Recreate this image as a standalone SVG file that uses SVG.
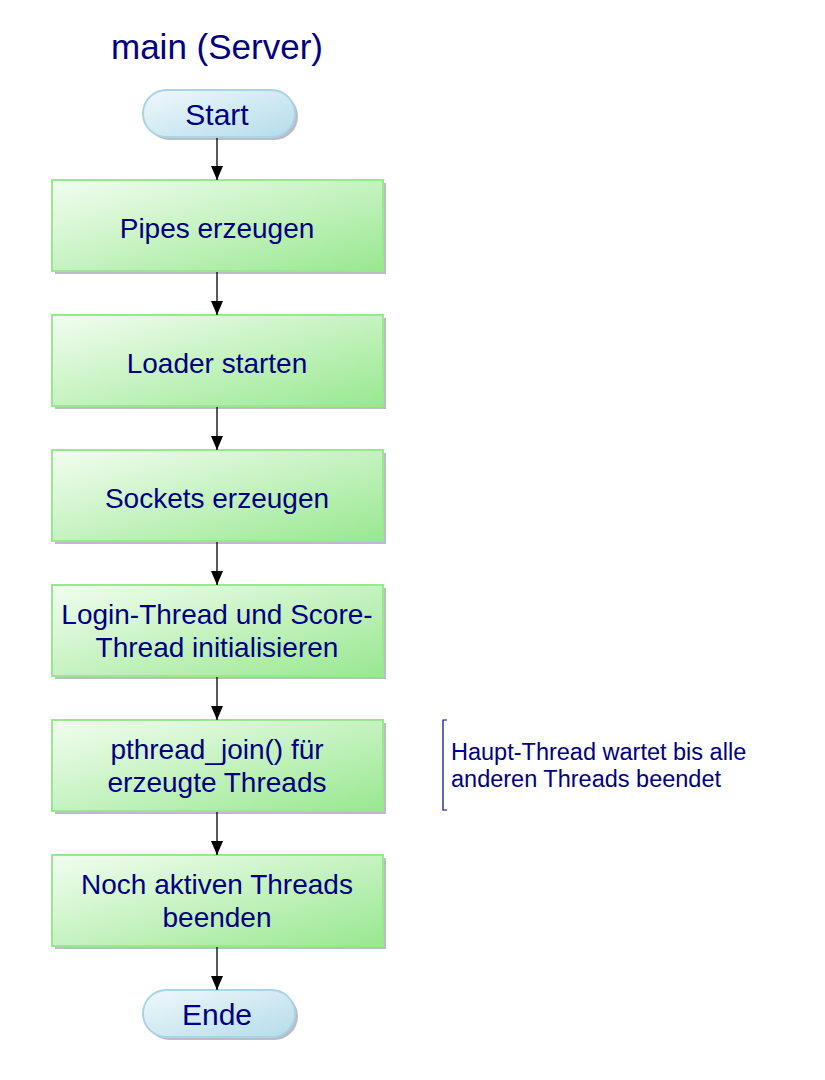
<svg xmlns="http://www.w3.org/2000/svg" width="825" height="1080" viewBox="0 0 825 1080">
<defs>
<linearGradient id="gBox" x1="0" y1="0" x2="1" y2="1">
<stop offset="0" stop-color="#f2fdf0"/>
<stop offset="1" stop-color="#98e890"/>
</linearGradient>
<linearGradient id="gTerm" x1="0" y1="0" x2="1" y2="1">
<stop offset="0" stop-color="#f0f8fc"/>
<stop offset="1" stop-color="#b4dcea"/>
</linearGradient>
<marker id="arr" markerWidth="14" markerHeight="12" refX="14" refY="6" orient="auto" markerUnits="userSpaceOnUse" viewBox="0 0 14 12">
<path d="M0,0 L14,6 L0,12 Z" fill="#000"/>
</marker>
<style>
.box{fill:url(#gBox);stroke:#98e890;stroke-width:2}
.term{fill:url(#gTerm);stroke:#a8d4e4;stroke-width:2}
.sh{fill:#a0a0b0;opacity:0.7}
.t{font-family:"Liberation Sans",Arial,sans-serif;font-size:28px;fill:#000080;text-anchor:middle}
.tt{font-family:"Liberation Sans",Arial,sans-serif;font-size:30px;fill:#000080;text-anchor:middle}
.n{font-family:"Liberation Sans",Arial,sans-serif;font-size:23.5px;fill:#000080}
.c{stroke:#000;stroke-width:1.3;fill:none;marker-end:url(#arr)}
</style>
</defs>
<rect width="825" height="1080" fill="#fff"/>
<text class="tt" x="217" y="59" style="font-size:35px">main (Server)</text>

<g id="start">
<rect class="sh" x="146" y="93" width="152" height="47" rx="23.5"/>
<rect class="term" x="143" y="90" width="152" height="47" rx="23.5"/>
<text class="tt" x="217" y="125">Start</text>
</g>
<g id="n1">
<rect class="sh" x="55" y="183" width="331" height="91"/>
<rect class="box" x="52" y="180" width="331" height="91"/>
<text class="t" x="217" y="238">Pipes erzeugen</text>
</g>
<g id="n2">
<rect class="sh" x="55" y="318" width="331" height="91"/>
<rect class="box" x="52" y="315" width="331" height="91"/>
<text class="t" x="217" y="373">Loader starten</text>
</g>
<g id="n3">
<rect class="sh" x="55" y="453" width="331" height="91"/>
<rect class="box" x="52" y="450" width="331" height="91"/>
<text class="t" x="217" y="508">Sockets erzeugen</text>
</g>
<g id="n4">
<rect class="sh" x="55" y="588" width="331" height="91"/>
<rect class="box" x="52" y="585" width="331" height="91"/>
<text class="t" x="217" y="624">Login-Thread und Score-</text>
<text class="t" x="217" y="657">Thread initialisieren</text>
</g>
<g id="n5">
<rect class="sh" x="55" y="723" width="331" height="91"/>
<rect class="box" x="52" y="720" width="331" height="91"/>
<text class="t" x="217" y="759">pthread_join() für</text>
<text class="t" x="217" y="792">erzeugte Threads</text>
</g>
<g id="n6">
<rect class="sh" x="55" y="858" width="331" height="91"/>
<rect class="box" x="52" y="855" width="331" height="91"/>
<text class="t" x="217" y="894">Noch aktiven Threads</text>
<text class="t" x="217" y="927">beenden</text>
</g>
<g id="end">
<rect class="sh" x="146" y="993" width="152" height="47" rx="23.5"/>
<rect class="term" x="143" y="990" width="152" height="47" rx="23.5"/>
<text class="tt" x="217" y="1025">Ende</text>
</g>
<g id="note">
<path d="M447,720 L443,720 L443,810 L447,810" fill="none" stroke="#000080" stroke-width="1.2"/>
<text class="n" x="451" y="760">Haupt-Thread wartet bis alle</text>
<text class="n" x="451" y="787">anderen Threads beendet</text>
</g>
<g id="connectors">
<line class="c" x1="217" y1="138" x2="217" y2="180"/>
<line class="c" x1="217" y1="272" x2="217" y2="315"/>
<line class="c" x1="217" y1="407" x2="217" y2="450"/>
<line class="c" x1="217" y1="542" x2="217" y2="585"/>
<line class="c" x1="217" y1="677" x2="217" y2="720"/>
<line class="c" x1="217" y1="812" x2="217" y2="855"/>
<line class="c" x1="217" y1="947" x2="217" y2="990"/>
</g>
</svg>
